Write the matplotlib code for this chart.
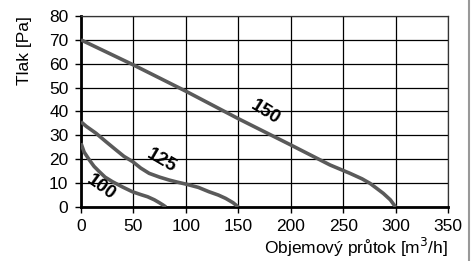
import matplotlib
matplotlib.use("Agg")
import matplotlib.pyplot as plt
from matplotlib.lines import Line2D

plt.rcParams['font.family'] = ['Liberation Sans', 'DejaVu Sans']

# data
x150 = [0, 50, 100, 150, 200, 237.5, 256.5, 268, 275.6, 282, 288.3, 295, 300]
y150 = [70, 59.5, 48.5, 37, 26, 17.6, 14.1, 11.8, 9.9, 7.8, 5.7, 3, 0]
x125 = [0, 5, 14.3, 24, 33.4, 41, 49.3, 57, 65, 75, 84, 92, 100, 112, 122, 131, 138, 145, 150]
y125 = [35.7, 33.8, 30.9, 27.3, 23.9, 21.2, 19, 16.3, 14.1, 12.5, 11.3, 10.4, 9.6, 8.2, 6.4, 5, 3.6, 1.8, 0]
x100 = [0, 3, 8, 12.5, 17.5, 23, 30, 40, 49, 57, 63.5, 70, 74.7, 78, 81]
y100 = [26.7, 23, 19.7, 17, 14.8, 12.5, 10.6, 8.3, 6.4, 5.2, 4.3, 3, 1.8, 0.9, 0]
labels = ["150", "125", "100"]
label_pos = [(176, 39.5), (77, 19.3), (19, 8)]
label_rot = [-32, -30, -36]
xticks = [0, 50, 100, 150, 200, 250, 300, 350]
yticks = [0, 10, 20, 30, 40, 50, 60, 70, 80]

fig = plt.figure(figsize=(4.73, 2.61), dpi=100)
ax = fig.add_axes([0.1712, 0.2069, 0.776, 0.7318])

curve_color = '#5a5a5a'
for xs, ys in [(x150, y150), (x125, y125), (x100, y100)]:
    ax.plot(xs, ys, color=curve_color, lw=2.6, solid_joinstyle='round',
            solid_capstyle='butt', zorder=3)

for t, (lx, ly), r in zip(labels, label_pos, label_rot):
    ax.text(lx, ly, t, rotation=r, ha='center', va='center', fontsize=13.5,
            fontweight='bold', color='black', zorder=4)

ax.set_xlim(0, 350)
ax.set_ylim(0, 80)
ax.set_xticks(xticks)
ax.set_yticks(yticks)
ax.grid(True, color='black', lw=0.9)
ax.set_axisbelow(True)
for s in ['top', 'right']:
    ax.spines[s].set_linewidth(0.9)
    ax.spines[s].set_color('#333333')
for s in ['left', 'bottom']:
    ax.spines[s].set_linewidth(2.0)
    ax.spines[s].set_color('black')
ax.tick_params(direction='out', length=4, width=1, labelsize=12.5)
ax.tick_params(axis='x', pad=5)
ax.tick_params(axis='y', pad=5)
ax.set_ylabel('Tlak [Pa]', fontsize=12.5, labelpad=12, loc='top')
ax.set_xlabel('Objemový průtok [m$^3$/h]', fontsize=12.5, labelpad=1, loc='right')

fig.add_artist(Line2D([469/473, 469/473], [0, 1], transform=fig.transFigure,
                      color='#999999', lw=1.5))

fig.savefig('out.png', dpi=100)
